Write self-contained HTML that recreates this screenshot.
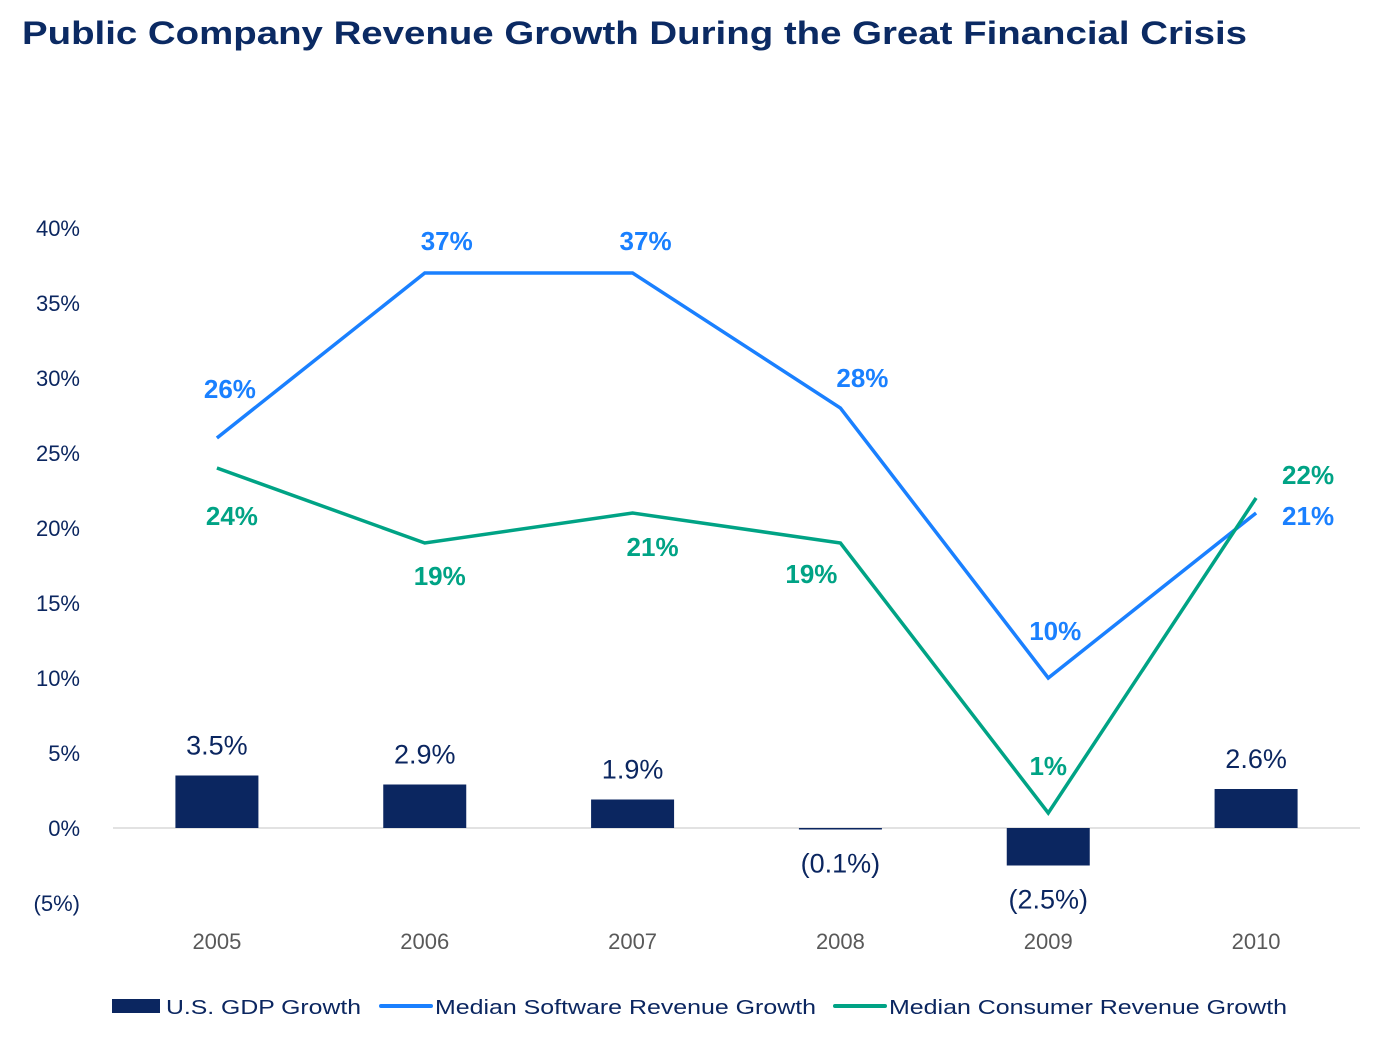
<!DOCTYPE html>
<html><head><meta charset="utf-8"><style>
body{margin:0;background:#fff;}
svg{display:block;font-family:"Liberation Sans",sans-serif;}
</style></head><body>
<svg id="chart" width="1382" height="1046" viewBox="0 0 1382 1046">
<text x="22" y="44" font-size="32" font-weight="bold" fill="#0b2a63" textLength="1225" lengthAdjust="spacingAndGlyphs">Public Company Revenue Growth During the Great Financial Crisis</text>
<g id="yaxis"></g>
<g id="xaxis"></g>
<g id="bars"></g>
<g id="lines"></g>
<g id="labels"></g>
<g>
<rect x="112" y="999" width="48" height="14" fill="#0b2660"/>
<text x="166" y="1014" font-size="20" fill="#0b2660" textLength="195" lengthAdjust="spacingAndGlyphs">U.S. GDP Growth</text>
<line x1="381" y1="1006" x2="431" y2="1006" stroke="#1a80ff" stroke-width="4" stroke-linecap="round"/>
<text x="435" y="1014" font-size="20" fill="#0b2660" textLength="381" lengthAdjust="spacingAndGlyphs">Median Software Revenue Growth</text>
<line x1="835" y1="1006" x2="885" y2="1006" stroke="#00a385" stroke-width="4" stroke-linecap="round"/>
<text x="889" y="1014" font-size="20" fill="#0b2660" textLength="398" lengthAdjust="spacingAndGlyphs">Median Consumer Revenue Growth</text>
</g>
</svg>
<script>
const categories=["2005","2006","2007","2008","2009","2010"];
const gdp=[3.5,2.9,1.9,-0.1,-2.5,2.6];
const software=[26,37,37,28,10,21];
const consumer=[24,19,21,19,1,22];
const yTicks=[40,35,30,25,20,15,10,5,0,-5];
const gdpLabels=["3.5%","2.9%","1.9%","(0.1%)","(2.5%)","2.6%"];
const NS="http://www.w3.org/2000/svg";
const x0=113,x1=1360,step=(x1-x0)/categories.length;
const xs=i=>x0+step*(i+0.5);
const ys=v=>828-v*15;
const swDx=[13,22,13,22,7,52], swDy=[-40,-23,-23,-21,-38,12];
const coDx=[15,15,20,-29,0,52], coDy=[57,42,43,40,-38,-14];
function mk(tag,attrs,parent,txt){const e=document.createElementNS(NS,tag);for(const k in attrs)e.setAttribute(k,attrs[k]);if(txt!==undefined)e.textContent=txt;document.getElementById(parent).appendChild(e);return e;}
yTicks.forEach(t=>{
 const e=mk('text',{x:80,y:ys(t)+8,'font-size':22,fill:'#0b2660','text-anchor':'end'},'yaxis',t<0?'('+(-t)+'%)':t+'%');
 
 
});
const ax=mk('line',{x1:x0,x2:x1,y1:ys(0),y2:ys(0),stroke:'#d9d9d9','stroke-width':1.5},'xaxis');


categories.forEach((c,i)=>{
 const e=mk('text',{x:xs(i),y:949,'font-size':22,fill:'#595959','text-anchor':'middle'},'xaxis',c);
 
 
});
gdp.forEach((v,i)=>{
 const top=Math.min(ys(v),ys(0)),h=Math.max(Math.abs(ys(v)-ys(0)),1.5);
 const b=mk('rect',{x:xs(i)-41.5,y:top,width:83,height:h,fill:'#0b2660'},'bars');
 
 
 const ly=v>=0?ys(v)-21:ys(v)+43;
 const l=mk('text',{x:xs(i),y:ly,'font-size':27,fill:'#0b2660','text-anchor':'middle'},'labels',gdpLabels[i]);
 
 
});
function line(vals,color,name){
 const p=mk('polyline',{points:vals.map((v,i)=>xs(i)+','+ys(v)).join(' '),fill:'none',stroke:color,'stroke-width':3.5},'lines');
 
 
}
line(software,'#1a80ff','software-line');
line(consumer,'#00a385','consumer-line');
software.forEach((v,i)=>{
 const l=mk('text',{x:xs(i)+swDx[i],y:ys(v)+swDy[i],'font-size':26,'font-weight':'bold',fill:'#1a80ff','text-anchor':'middle'},'labels',v+'%');
 
 
});
consumer.forEach((v,i)=>{
 const l=mk('text',{x:xs(i)+coDx[i],y:ys(v)+coDy[i],'font-size':26,'font-weight':'bold',fill:'#00a385','text-anchor':'middle'},'labels',v+'%');
 
 
});
</script>
</body></html>
